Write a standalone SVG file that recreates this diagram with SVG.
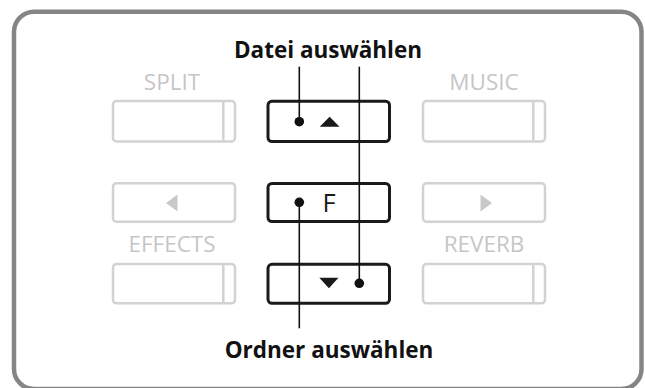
<svg xmlns="http://www.w3.org/2000/svg" width="645" height="388" viewBox="0 0 645 388">
<style>
.frame{fill:#ffffff;stroke:#858585;stroke-width:4.5}
.gbtn{fill:#ffffff;stroke:#d2d2d2;stroke-width:2.5}
.gline{stroke:#d2d2d2;stroke-width:2.5}
.gtri{fill:#c8c8c8}
.glabel{font-family:"Open Sans","Liberation Sans",sans-serif;font-size:22.5px;fill:#c6c6c6;text-anchor:middle}
.kbtn{fill:#ffffff;stroke:#1a1a1a;stroke-width:3}
.ktri{fill:#1a1a1a}
.klabel{font-family:"Open Sans","Liberation Sans",sans-serif;font-size:25.5px;fill:#1a1a1a;text-anchor:middle}
.title{font-family:"Open Sans","Liberation Sans",sans-serif;font-size:22.5px;font-weight:bold;fill:#111111;text-anchor:middle}
.conn{stroke:#111111;stroke-width:1.6;fill:none}
.dot{fill:#111111}
</style>
<rect class="frame" x="14" y="11.7" width="627.5" height="377.3" rx="20" ry="20"/>

<g id="split">
  <text class="glabel" x="172" y="90">SPLIT</text>
  <rect class="gbtn" x="113" y="101" width="122" height="40.5" rx="3.5"/>
  <line class="gline" x1="223.3" y1="101" x2="223.3" y2="141.5"/>
</g>
<g id="music">
  <text class="glabel" x="484" y="90">MUSIC</text>
  <rect class="gbtn" x="423" y="101" width="122" height="40.5" rx="3.5"/>
  <line class="gline" x1="533.3" y1="101" x2="533.3" y2="141.5"/>
</g>
<g id="left">
  <rect class="gbtn" x="113" y="183.3" width="122" height="38.4" rx="3.5"/>
  <polygon class="gtri" points="166,203 177.5,194.5 177.5,211.5"/>
</g>
<g id="right">
  <rect class="gbtn" x="423" y="183.3" width="122" height="38.4" rx="3.5"/>
  <polygon class="gtri" points="492,203 480.5,194.5 480.5,211.5"/>
</g>
<g id="effects">
  <text class="glabel" x="172" y="251.7">EFFECTS</text>
  <rect class="gbtn" x="113" y="264" width="122" height="39.3" rx="3.5"/>
  <line class="gline" x1="223.3" y1="264" x2="223.3" y2="303.3"/>
</g>
<g id="reverb">
  <text class="glabel" x="484" y="251.7">REVERB</text>
  <rect class="gbtn" x="423" y="264" width="122" height="39.3" rx="3.5"/>
  <line class="gline" x1="533.3" y1="264" x2="533.3" y2="303.3"/>
</g>

<g id="up">
  <rect class="kbtn" x="268" y="101.2" width="121.5" height="40.3" rx="4"/>
  <polygon class="ktri" points="329.6,116.7 339.5,126.7 319.7,126.7"/>
</g>
<g id="f">
  <rect class="kbtn" x="268" y="183.5" width="121.5" height="38" rx="4"/>
  <text class="klabel" x="329" y="211.7">F</text>
</g>
<g id="down">
  <rect class="kbtn" x="268" y="264.3" width="121.5" height="39" rx="4"/>
  <polygon class="ktri" points="319.3,277.7 338.5,277.7 328.9,288.3"/>
</g>

<g id="datei">
  <text class="title" x="328" y="57.5">Datei auswählen</text>
</g>
<g id="ordner">
  <text class="title" x="329" y="358.3">Ordner auswählen</text>
</g>

<g id="connectors">
  <line class="conn" x1="299.3" y1="66.7" x2="299.3" y2="121.7"/>
  <circle class="dot" cx="299.3" cy="121.7" r="4.8"/>
  <line class="conn" x1="359.3" y1="66.7" x2="359.3" y2="283.3"/>
  <circle class="dot" cx="359.3" cy="283.3" r="4.8"/>
  <line class="conn" x1="299.3" y1="202.3" x2="299.3" y2="328.3"/>
  <circle class="dot" cx="299.3" cy="202.3" r="4.8"/>
</g>
</svg>
